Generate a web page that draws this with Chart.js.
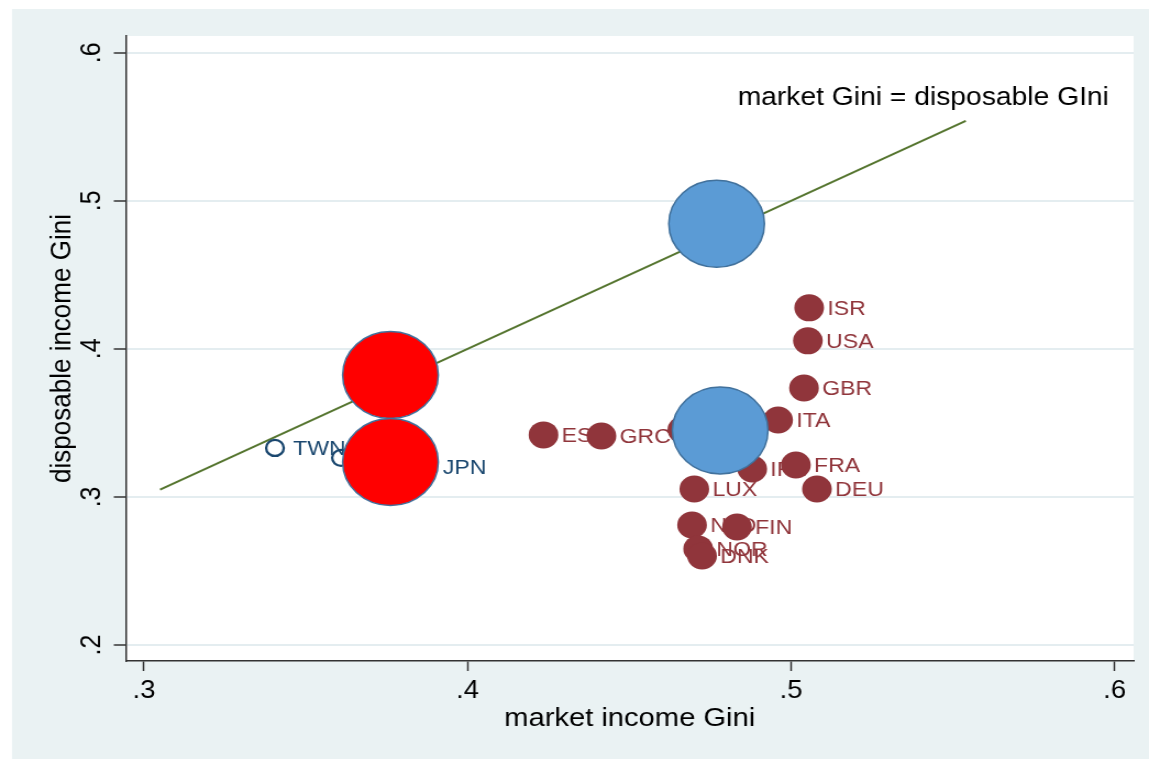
<!DOCTYPE html>
<html><head><meta charset="utf-8">
<script src="https://cdn.jsdelivr.net/npm/chart.js@4.4.1/dist/chart.umd.min.js"></script>
<style>html,body{margin:0;padding:0;background:#fff;overflow:hidden}canvas{display:block}</style>
</head><body>
<canvas id="c" width="1045" height="759" style="width:1149px;height:759px"></canvas>
<script>
// ---- tick labels ----
const xTickValues = [0.3, 0.4, 0.5, 0.6];
const xTickLabels = ['.3', '.4', '.5', '.6'];
const yTickValues = [0.2, 0.3, 0.4, 0.5, 0.6];
const yTickLabels = ['.2', '.3', '.4', '.5', '.6'];

// ---- hollow navy series ----
const asiaCountries = ['TWN', 'KOR', 'JPN'];
const asiaMarket = [0.3405, 0.3609, 0.3868];
const asiaDisposable = [0.3331, 0.3264, 0.3203];

// ---- maroon series ----
const oecdCountries = ['ESP','GRC','CAN','ISR','USA','GBR','ITA','FRA','IRL','DEU','LUX','NLD','FIN','NOR','DNK'];
const oecdMarket = [0.4235,0.4414,0.4664,0.5056,0.5052,0.5040,0.4960,0.5015,0.4880,0.5080,0.4701,0.4694,0.4833,0.4713,0.4725];
const oecdDisposable = [0.3419,0.3412,0.3453,0.4277,0.4054,0.3736,0.3520,0.3216,0.3189,0.3054,0.3054,0.2811,0.2797,0.2649,0.2601];

// ---- large bubbles ----
const redMarket = [0.3762, 0.3762];
const redDisposable = [0.3824, 0.3236];
const blueMarket = [0.4770, 0.4781];
const blueDisposable = [0.4845, 0.3449];

// ---- 45-degree line ----
const equalityLine = [0.305, 0.554];
const equalityLabel = 'market Gini = disposable GIni';
const equalityLabelAt = [0.4835, 0.5693];

const xTitle = 'market income Gini';
const yTitle = 'disposable income Gini';

const NAVY = '#1A476F';
const MAROON = '#90353B';
const FONT = '"Liberation Sans", Arial, Helvetica, sans-serif';
Chart.defaults.font.family = FONT;
Chart.defaults.color = '#000';

const pts = (xs, ys) => xs.map((v, i) => ({x: v, y: ys[i]}));

const bgPlugin = {
  id: 'bg',
  beforeDraw(chart) {
    const {ctx, width, height, chartArea: a} = chart;
    ctx.save();
    ctx.fillStyle = '#ffffff';
    ctx.fillRect(0, 0, width, height);
    ctx.fillStyle = '#EAF2F3';
    ctx.fillRect(10.9, 9, width - 10.9, height - 9);
    ctx.fillStyle = '#ffffff';
    ctx.fillRect(a.left, a.top, a.right - a.left, a.bottom - a.top);
    ctx.restore();
  }
};

const labelPlugin = {
  id: 'pointLabels',
  beforeDatasetsDraw(chart) {
    const {ctx, scales: {x, y}} = chart;
    ctx.save();
    ctx.font = '21px ' + FONT;
    ctx.textBaseline = 'middle';
    ctx.textAlign = 'left';
    const draw = (names, xs, ys, color) => {
      ctx.fillStyle = color;
      names.forEach((n, i) => ctx.fillText(n, x.getPixelForValue(xs[i]) + 16.5, y.getPixelForValue(ys[i]) + 1));
    };
    draw(asiaCountries, asiaMarket, asiaDisposable, NAVY);
    draw(oecdCountries, oecdMarket, oecdDisposable, MAROON);
    ctx.font = '25.7px ' + FONT;
    ctx.fillStyle = '#000';
    ctx.fillText(equalityLabel, x.getPixelForValue(equalityLabelAt[0]), y.getPixelForValue(equalityLabelAt[1]));
    ctx.restore();
  }
};

new Chart(document.getElementById('c'), {
  type: 'scatter',
  data: {
    datasets: [
      { label: 'blue', data: pts(blueMarket, blueDisposable), order: 1,
        pointRadius: 43.5, pointHoverRadius: 43.5, backgroundColor: '#5B9BD5', borderColor: '#41719C', pointBorderWidth: 1.5 },
      { label: 'red', data: pts(redMarket, redDisposable), order: 2,
        pointRadius: 43.5, pointHoverRadius: 43.5, backgroundColor: '#FF0000', borderColor: '#41719C', pointBorderWidth: 1.5 },
      { label: 'oecd', data: pts(oecdMarket, oecdDisposable), order: 8,
        pointRadius: 13.5, pointHoverRadius: 13.5, backgroundColor: MAROON, borderColor: MAROON, pointBorderWidth: 0 },
      { label: 'asia', data: pts(asiaMarket, asiaDisposable), order: 9,
        pointRadius: 8, pointHoverRadius: 8, backgroundColor: 'rgba(0,0,0,0)', borderColor: NAVY, pointBorderWidth: 2.3 },
      { label: 'equality', data: pts(equalityLine, equalityLine), order: 10, showLine: true,
        pointRadius: 0, borderColor: '#55752F', borderWidth: 2 }
    ]
  },
  options: {
    responsive: false,
    devicePixelRatio: 1,
    animation: false,
    events: [],
    layout: { autoPadding: false, padding: { left: 0, top: 36, right: 14, bottom: 0 } },
    plugins: { legend: { display: false }, tooltip: { enabled: false } },
    scales: {
      x: {
        type: 'linear', min: 0.29444, max: 0.60587,
        afterBuildTicks: s => { s.ticks = xTickValues.map(v => ({value: v})); },
        afterFit: s => { s.height = 98; s.paddingLeft = 0; s.paddingRight = 0; s.paddingTop = 0; s.paddingBottom = 0; },
        ticks: { callback: (v, i) => xTickLabels[i], font: { size: 25 }, color: '#000', padding: 5, maxRotation: 0, minRotation: 0, autoSkip: false },
        grid: { display: true, drawOnChartArea: false, drawTicks: true, tickLength: 10, tickColor: '#333', tickWidth: 1.5 },
        border: { display: true, color: '#333', width: 1.5 },
        title: { display: true, text: xTitle, font: { size: 26.5 }, color: '#000', padding: { top: 0, bottom: 24 } }
      },
      y: {
        type: 'linear', min: 0.1892, max: 0.6113,
        afterBuildTicks: s => { s.ticks = yTickValues.map(v => ({value: v})); },
        afterFit: s => { s.width = 114.5; s.paddingLeft = 0; s.paddingRight = 0; s.paddingTop = 0; s.paddingBottom = 0; },
        ticks: { callback: (v, i) => yTickLabels[i], font: { size: 25 }, color: '#000', padding: 8.6, minRotation: 90, maxRotation: 90, crossAlign: 'center', autoSkip: false },
        grid: { display: true, color: '#E4EDF0', lineWidth: 2, drawTicks: true, tickLength: 11, tickColor: '#333', tickWidth: 1.5 },
        border: { display: true, color: '#333', width: 1.5 },
        title: { display: true, text: yTitle, font: { size: 26 }, color: '#000', padding: { top: 41, bottom: 0 } }
      }
    }
  },
  plugins: [bgPlugin, labelPlugin]
});
</script>
</body></html>
